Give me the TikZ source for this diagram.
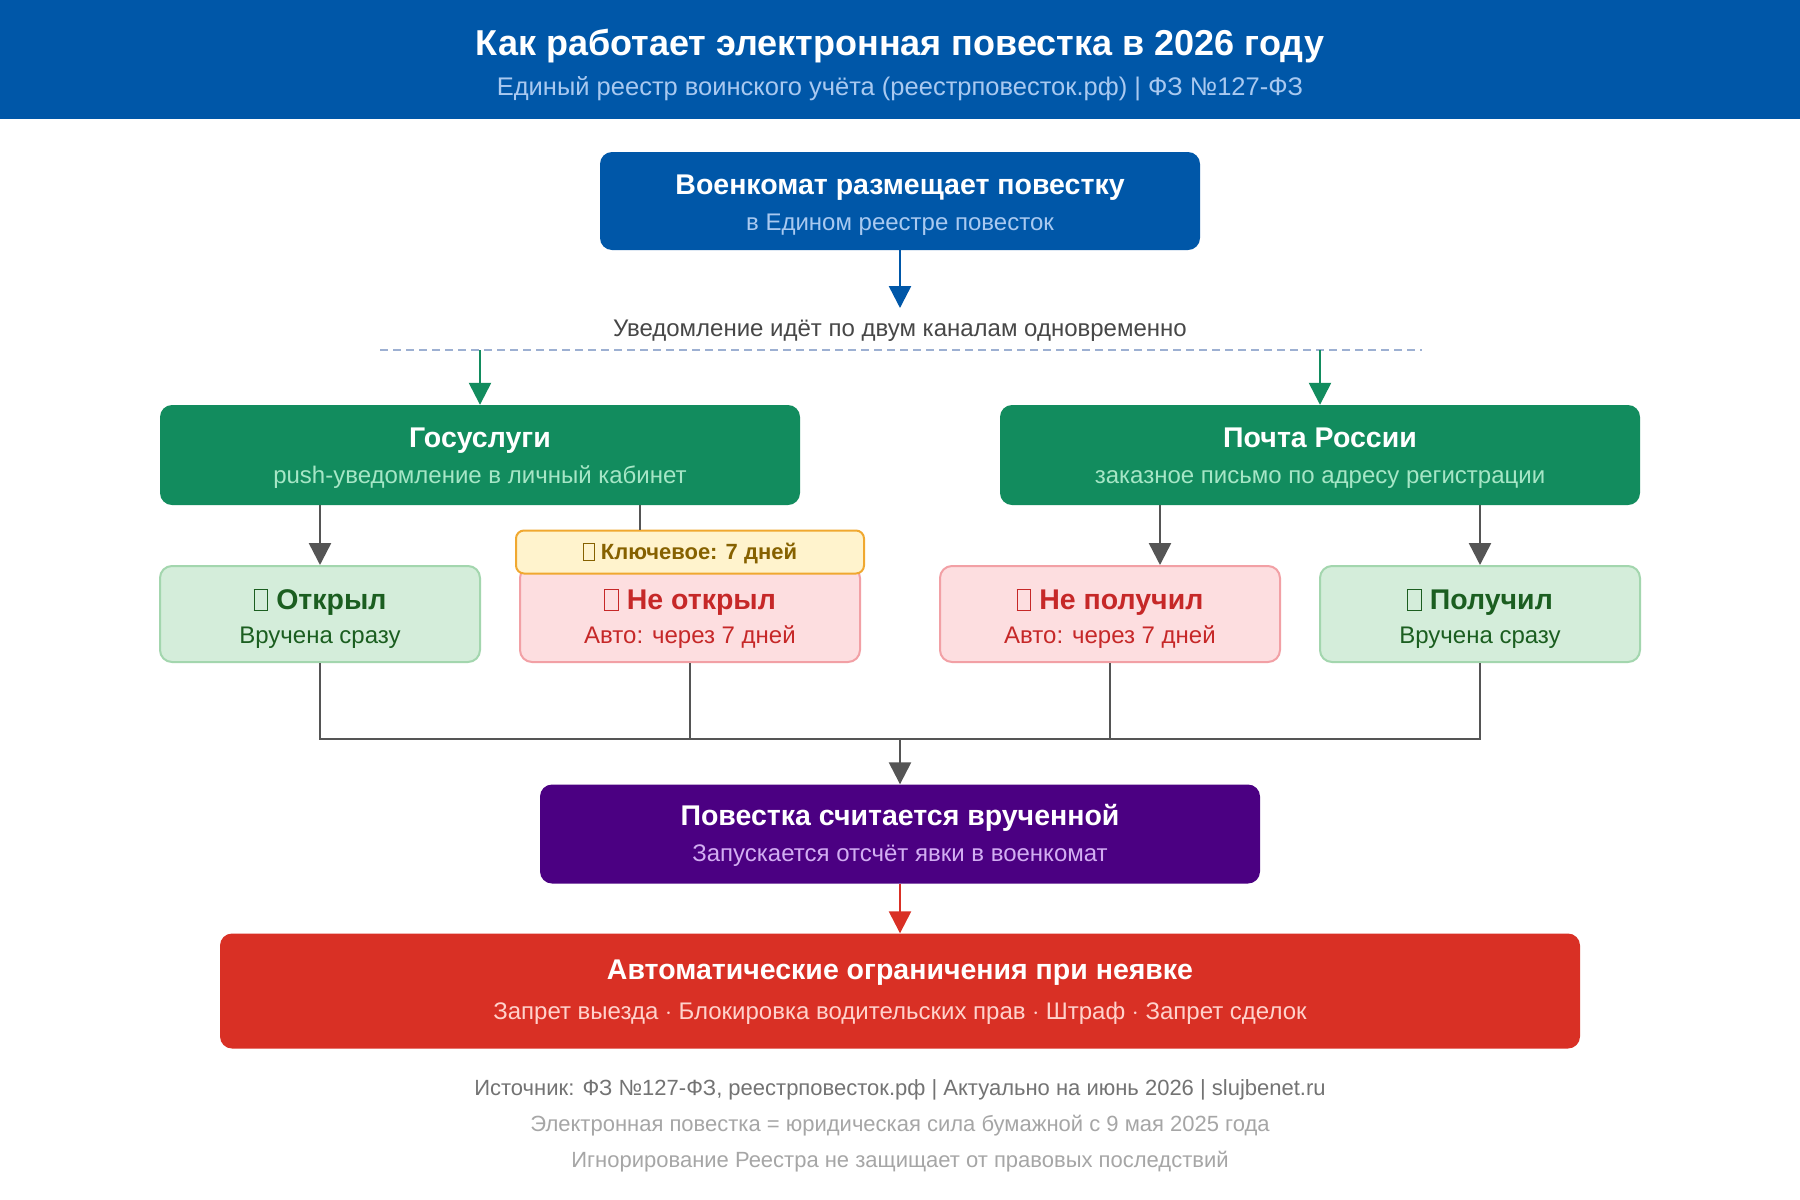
\documentclass[tikz,border=0pt]{standalone}
\usepackage{fontspec}
\setmainfont{Liberation Sans}
\usepackage{xcolor}
\usetikzlibrary{positioning, arrows.meta}

\definecolor{hdblue}{HTML}{0057A8}
\definecolor{hdsub}{HTML}{A9C9F0}
\definecolor{gs}{HTML}{128C5E}
\definecolor{gssub}{HTML}{A6E6C6}
\definecolor{pu}{HTML}{4B0082}
\definecolor{pusub}{HTML}{D2AEF2}
\definecolor{rd}{HTML}{D93025}
\definecolor{rdsub}{HTML}{FFD2CC}
\definecolor{okfill}{HTML}{D4EDDA}
\definecolor{okline}{HTML}{A3D6AE}
\definecolor{oktext}{HTML}{1B5E20}
\definecolor{nofill}{HTML}{FDDEE0}
\definecolor{noline}{HTML}{F2A0A5}
\definecolor{notext}{HTML}{C62828}
\definecolor{keyfill}{HTML}{FFF3CD}
\definecolor{keyline}{HTML}{F0A830}
\definecolor{keytext}{HTML}{866100}
\definecolor{ln}{HTML}{555555}
\definecolor{dsh}{HTML}{9DB0D2}

% empty glyph box
\newcommand{\nog}{{\setlength{\fboxsep}{0pt}\setlength{\fboxrule}{1pt}\fbox{\rule{0pt}{0.7em}\hspace{0.45em}}}}
\newcommand{\fs}[1]{\fontsize{#1}{#1}\selectfont}

\begin{document}
\begin{tikzpicture}[x=1pt, y=-1pt,
  every node/.style={text height=0.72em, text depth=0pt},
  bx/.style={rounded corners=12pt, inner sep=0pt},
  sm/.style={bx, line width=2pt, minimum width=320pt, minimum height=96pt},
  hd/.style={font=\fs{28.5}\bfseries},
  sb/.style={font=\fs{24}},
  ft/.style={font=\fs{22}},
  ar/.style={-{Triangle[length=22pt, width=22pt]}, line width=2.5pt, draw=ln},
  wire/.style={line width=2pt, draw=ln}]
\useasboundingbox (0,0) rectangle (1800,1200);
\fill[white] (0,0) rectangle (1800,1200);

% header
\node[fill=hdblue, minimum width=1800pt, minimum height=119pt, inner sep=0pt, anchor=north west] (band) at (0,0) {};
\node[font=\fs{36}\bfseries, text=white] (ttl) at (900,52) {Как работает электронная повестка в 2026 году};
\node[font=\fs{25.5}, text=hdsub] (sttl) at (900,92) {Единый реестр воинского учёта (реестрповесток.рф) | ФЗ №127-ФЗ};

% boxes
\node[bx, fill=hdblue, minimum width=600pt, minimum height=98pt] (top) at (900,201) {};
\node[hd, text=white] at (900,191) {Военкомат размещает повестку};
\node[sb, text=hdsub] at (900,227) {в Едином реестре повесток};

\node[sb, text=black!72] (note) at (900,333) {Уведомление идёт по двум каналам одновременно};
\coordinate (tip) at (900,308);
\coordinate (dl) at (380,350); \coordinate (dr) at (1422,350);

\node[bx, fill=gs, minimum width=640pt, minimum height=100pt] (gos) at (480,455) {};
\node[hd, text=white] at (480,444) {Госуслуги};
\node[sb, text=gssub] at (480,480) {push-уведомление в личный кабинет};
\node[bx, fill=gs, minimum width=640pt, minimum height=100pt] (post) at (1320,455) {};
\node[hd, text=white] at (1320,444) {Почта России};
\node[sb, text=gssub] at (1320,480) {заказное письмо по адресу регистрации};

\node[sm, fill=okfill, draw=okline] (open) at (320,614) {};
\node[hd, text=oktext] at (320,606) {\nog{} Открыл};
\node[sb, text=oktext] at (320,640) {Вручена сразу};
\node[sm, fill=nofill, draw=noline, minimum width=340pt] (miss) at (690,614) {};
\node[hd, text=notext] at (690,606) {\nog{} Не открыл};
\node[sb, text=notext] at (690,640) {Авто: через 7 дней};
\node[bx, rounded corners=8pt, line width=2pt, fill=keyfill, draw=keyline, minimum width=348pt, minimum height=43pt] (key) at (690,552) {};
\node[font=\fs{22}\bfseries, text=keytext] at (690,556) {\nog{} Ключевое: 7 дней};
\node[sm, fill=nofill, draw=noline, minimum width=340pt] (lost) at (1110,614) {};
\node[hd, text=notext] at (1110,606) {\nog{} Не получил};
\node[sb, text=notext] at (1110,640) {Авто: через 7 дней};
\node[sm, fill=okfill, draw=okline] (got) at (1480,614) {};
\node[hd, text=oktext] at (1480,606) {\nog{} Получил};
\node[sb, text=oktext] at (1480,640) {Вручена сразу};

\coordinate (jn) at (900,739);
\node[bx, fill=pu, minimum width=720pt, minimum height=99pt] (fin) at (900,834) {};
\node[hd, text=white] at (900,822) {Повестка считается врученной};
\node[sb, text=pusub] at (900,858) {Запускается отсчёт явки в военкомат};

\node[bx, fill=rd, minimum width=1360pt, minimum height=115pt] (auto) at (900,991) {};
\node[hd, text=white] at (900,976) {Автоматические ограничения при неявке};
\node[sb, text=rdsub] at (900,1016) {Запрет выезда $\cdot$ Блокировка водительских прав $\cdot$ Штраф $\cdot$ Запрет сделок};

% footer
\node[ft, text=black!55] (src) at (900,1092) {Источник: ФЗ №127-ФЗ, реестрповесток.рф | Актуально на июнь 2026 | slujbenet.ru};
\node[ft, text=black!35] (nt1) at (900,1128) {Электронная повестка = юридическая сила бумажной с 9 мая 2025 года};
\node[ft, text=black!35] (nt2) at (900,1164) {Игнорирование Реестра не защищает от правовых последствий};

% connectors
\draw[ar, draw=hdblue] (top) -- (tip);
\draw[line width=2pt, draw=dsh, dash pattern=on 8pt off 5pt] (dl) -- (dr);
\draw[ar, draw=gs] (gos.north |- dl) -- (gos.north);
\draw[ar, draw=gs] (post.north |- dl) -- (post.north);
\draw[ar] (gos.south -| open.north) -- (open.north);
\draw[wire] ([xshift=160pt]gos.south) -- ([xshift=160pt]gos.south |- key.north);
\draw[ar] ([xshift=-160pt]post.south) -- ([xshift=-160pt]post.south |- lost.north);
\draw[ar] (post.south -| got.north) -- (got.north);
\draw[wire] (open.south) |- (jn);
\draw[wire] (got.south) |- (jn);
\draw[wire] (miss.south) -- (miss.south |- jn);
\draw[wire] (lost.south) -- (lost.south |- jn);
\draw[ar] (jn) -- (fin.north);
\draw[ar, draw=rd] (fin) -- (auto);
\end{tikzpicture}
\end{document}
